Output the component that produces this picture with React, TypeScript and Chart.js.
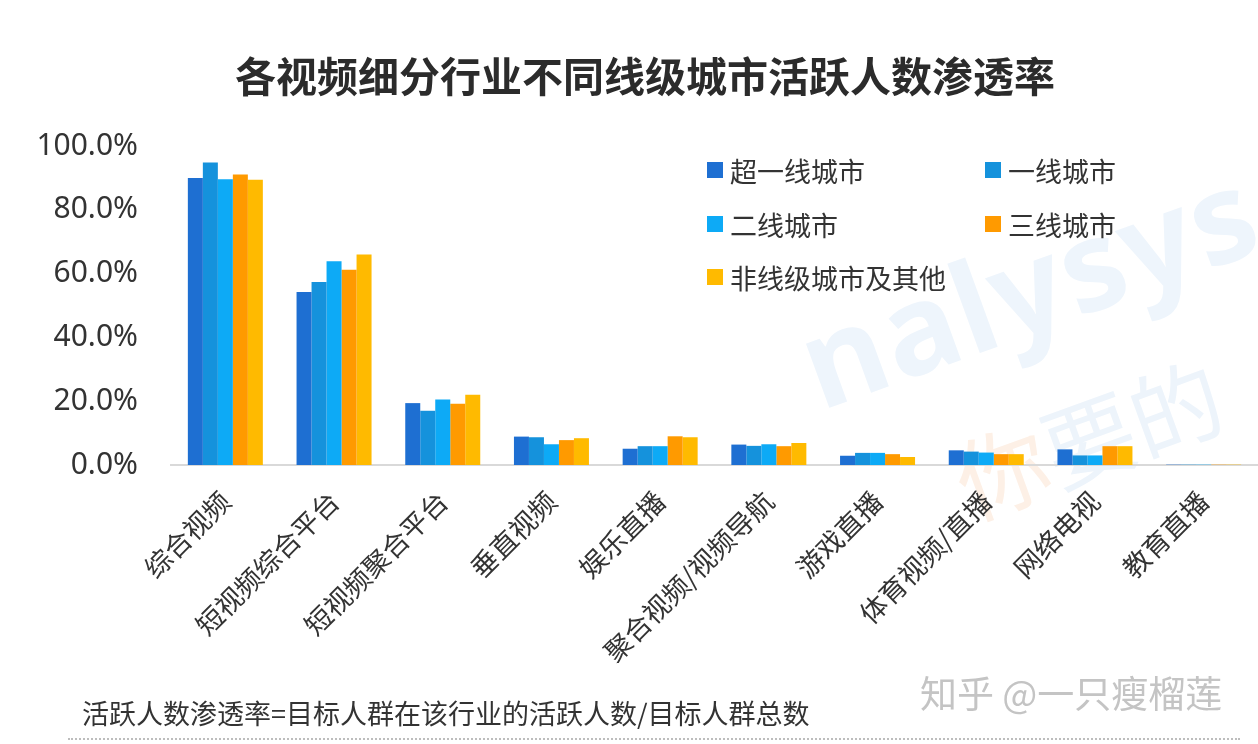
import React, { useEffect, useRef } from "react";
import { Chart, registerables } from "chart.js";

Chart.register(...registerables);

const categories = [
  "综合视频",
  "短视频综合平台",
  "短视频聚合平台",
  "垂直视频",
  "娱乐直播",
  "聚合视频/视频导航",
  "游戏直播",
  "体育视频/直播",
  "网络电视",
  "教育直播",
];

const seriesNames = ["超一线城市", "一线城市", "二线城市", "三线城市", "非线级城市及其他"];
const seriesColors = ["#1E6FD2", "#1592DC", "#0DAAF6", "#FF9A00", "#FFBA00"];

const superTier = [90.0, 54.2, 19.4, 8.9, 5.1, 6.4, 2.9, 4.6, 4.9, 0.1];
const tier1 = [94.8, 57.4, 17.0, 8.7, 5.9, 6.0, 3.8, 4.2, 3.0, 0.1];
const tier2 = [89.6, 63.9, 20.5, 6.5, 5.9, 6.5, 3.8, 3.9, 3.0, 0.1];
const tier3 = [91.1, 61.2, 19.2, 7.8, 9.0, 5.9, 3.4, 3.4, 5.9, 0.1];
const otherTier = [89.4, 66.0, 22.0, 8.4, 8.7, 6.9, 2.5, 3.4, 5.9, 0.1];

const yTicks = [0, 20, 40, 60, 80, 100];

const seriesValues = [superTier, tier1, tier2, tier3, otherTier];

const FONT = "'Noto Sans CJK SC', 'Noto Sans', sans-serif";

export default function App() {
  const canvasRef = useRef<HTMLCanvasElement | null>(null);

  useEffect(() => {
    if (!canvasRef.current) return;
    const chart = new Chart(canvasRef.current, {
      type: "bar",
      data: {
        labels: categories,
        datasets: seriesNames.map((name, i) => ({
          label: name,
          data: seriesValues[i],
          backgroundColor: seriesColors[i],
          borderWidth: 0,
          barPercentage: 1,
          categoryPercentage: 0.69,
        })),
      },
      options: {
        animation: false,
        responsive: false,
        devicePixelRatio: 1,
        layout: { padding: { top: 146, right: 0, bottom: 0, left: 0 } },
        plugins: {
          legend: { display: false },
          tooltip: { enabled: false },
          title: { display: false },
        },
        scales: {
          x: {
            grid: { display: false, drawTicks: false },
            border: { display: true, color: "#d9d9d9", width: 2 },
            ticks: {
              autoSkip: false,
              maxRotation: 45,
              minRotation: 45,
              color: "#333333",
              padding: 20,
              font: { family: FONT, size: 27 },
            },
            afterFit: (s: any) => {
              s.height = 279;
            },
          },
          y: {
            min: 0,
            max: 100,
            grid: { display: false, drawTicks: false },
            border: { display: false },
            afterBuildTicks: (s: any) => {
              s.ticks = yTicks.map((v) => ({ value: v }));
            },
            ticks: {
              color: "#333333",
              padding: 33,
              font: { family: "'Noto Sans', sans-serif", size: 30 },
              callback: (v: any) => Number(v).toFixed(1) + "%",
            },
            afterFit: (s: any) => {
              s.width = 171;
            },
          },
        },
      },
    });
    return () => chart.destroy();
  }, []);

  const legendPos = [
    { x: 707, y: 170 },
    { x: 985, y: 170 },
    { x: 707, y: 224 },
    { x: 985, y: 224 },
    { x: 707, y: 277 },
  ];

  return (
    <div
      style={{
        position: "fixed",
        left: 0,
        top: 0,
        width: 1258,
        height: 744,
        background: "#ffffff",
        overflow: "hidden",
        fontFamily: FONT,
      }}
    >
      {/* watermark */}
      <div
        style={{
          position: "absolute",
          left: 775,
          top: 285,
          fontSize: 125,
          fontWeight: 700,
          color: "#eef5fc",
          transform: "rotate(-20deg)",
          transformOrigin: "left top",
          fontFamily: "'Noto Sans', sans-serif",
          whiteSpace: "nowrap",
          letterSpacing: 2,
        }}
      >
        nalysys
      </div>
      <div
        style={{
          position: "absolute",
          left: 935,
          top: 420,
          fontSize: 92,
          transform: "rotate(-20deg)",
          transformOrigin: "left top",
          whiteSpace: "nowrap",
        }}
      >
        <span style={{ color: "#fdf0e6" }}>你</span>
        <span style={{ color: "#edf4fb" }}>要的</span>
      </div>

      <canvas
        ref={canvasRef}
        width={1258}
        height={744}
        style={{ position: "absolute", left: 0, top: 0, width: 1258, height: 744 }}
      />

      <div
        style={{
          position: "absolute",
          left: 0,
          width: 1290,
          top: 44,
          textAlign: "center",
          fontSize: 41,
          fontWeight: 700,
          color: "#2b2b2b",
          whiteSpace: "nowrap",
        }}
      >
        各视频细分行业不同线级城市活跃人数渗透率
      </div>

      {seriesNames.map((name, i) => (
        <div
          key={name}
          style={{
            position: "absolute",
            left: legendPos[i].x,
            top: legendPos[i].y - 18,
            height: 36,
            display: "flex",
            alignItems: "center",
            whiteSpace: "nowrap",
          }}
        >
          <span
            style={{
              display: "inline-block",
              width: 16,
              height: 16,
              background: seriesColors[i],
              marginRight: 7,
            }}
          />
          <span style={{ fontSize: 27, color: "#333333" }}>{name}</span>
        </div>
      ))}

      <div
        style={{
          position: "absolute",
          left: 920,
          top: 665,
          fontSize: 37,
          color: "#c4c4c4",
          whiteSpace: "nowrap",
        }}
      >
        知乎 @一只瘦榴莲
      </div>

      <div
        style={{
          position: "absolute",
          left: 82,
          top: 693,
          fontSize: 27,
          color: "#333333",
          whiteSpace: "nowrap",
        }}
      >
        活跃人数渗透率=目标人群在该行业的活跃人数/目标人群总数
      </div>

      <div
        style={{
          position: "absolute",
          left: 68,
          width: 1172,
          top: 738,
          borderTop: "2px dotted #bdbdbd",
        }}
      />
    </div>
  );
}
